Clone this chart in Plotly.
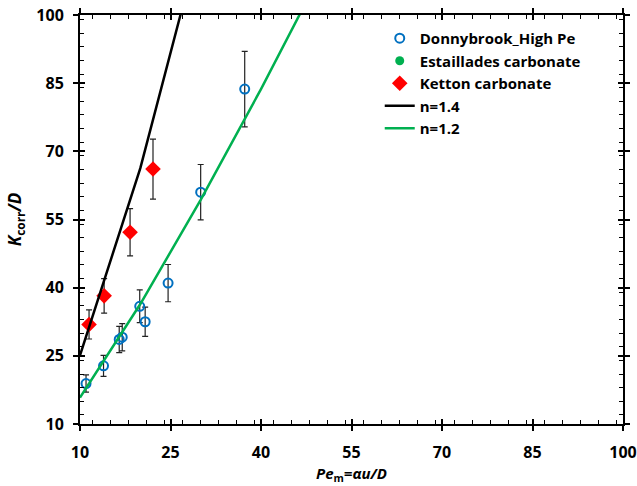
import plotly.graph_objects as go

# Data
pe_donny = [11.0, 13.9, 16.5, 17.0, 19.9, 20.8, 24.6, 30.0, 37.3]
k_donny = [18.9, 22.8, 28.6, 29.1, 35.9, 32.5, 41.0, 61.0, 83.7]
err_donny = [1.9, 2.3, 2.9, 3.0, 3.6, 3.2, 4.1, 6.1, 8.3]

pe_ketton = [11.5, 14.0, 18.3, 22.1]
k_ketton = [31.9, 38.2, 52.2, 66.1]
err_ketton = [3.2, 3.8, 5.2, 6.6]

pe_estaillades = [None]
k_estaillades = [None]

pe_n14 = [10, 20, 30]
k_n14 = [25.1, 66.3, 117.0]

pe_n12 = [10, 20, 30, 40, 50]
k_n12 = [15.8, 36.4, 59.3, 83.7, 109.3]

tick_vals = [10, 25, 40, 55, 70, 85, 100]
tick_text = ["10", "25", "40", "55", "70", "85", "100"]

FONT = "Open Sans"
BLUE = "#0070C0"
GREEN = "#00B050"
RED = "#FF0000"

fig = go.Figure()

fig.add_trace(go.Scatter(
    x=pe_donny, y=k_donny, mode="markers", name="Donnybrook_High Pe",
    marker=dict(symbol="circle-open", size=9, color=BLUE, line=dict(width=2, color=BLUE)),
    error_y=dict(type="data", array=err_donny, color="#222222", thickness=1.2, width=3),
))
fig.add_trace(go.Scatter(
    x=pe_estaillades, y=k_estaillades, mode="markers", name="Estaillades carbonate",
    marker=dict(symbol="circle", size=9, color=GREEN),
))
fig.add_trace(go.Scatter(
    x=pe_ketton, y=k_ketton, mode="markers", name="Ketton carbonate",
    marker=dict(symbol="diamond", size=12, color=RED),
    error_y=dict(type="data", array=err_ketton, color="#222222", thickness=1.2, width=3),
))
fig.add_trace(go.Scatter(
    x=pe_n14, y=k_n14, mode="lines", name="n=1.4",
    line=dict(color="black", width=2.5),
))
fig.add_trace(go.Scatter(
    x=pe_n12, y=k_n12, mode="lines", name="n=1.2",
    line=dict(color=GREEN, width=2.5),
))

axis_common = dict(
    range=[10, 100], tickvals=tick_vals, ticktext=tick_text,
    showgrid=False, zeroline=False, automargin=False,
    ticklabeloverflow="allow",
    showline=True, linecolor="black", linewidth=2,
    mirror="ticks", ticks="outside", ticklen=5, tickwidth=1.5, tickcolor="black",
    minor=dict(dtick=3, ticks="inside", ticklen=4, tickwidth=1, tickcolor="black"),
    tickfont=dict(family=FONT, size=16, color="black", weight="bold"),
)

fig.update_layout(
    width=637, height=486,
    margin=dict(l=80, r=14, t=15, b=62),
    plot_bgcolor="white", paper_bgcolor="white",
    showlegend=True,
    legend=dict(
        x=0.552, y=0.983, xanchor="left", yanchor="top",
        bgcolor="rgba(0,0,0,0)", tracegroupgap=0, itemwidth=30,
        font=dict(family=FONT, size=15, color="black", weight="bold"),
    ),
    xaxis=dict(
        **axis_common,
        title=dict(text="<i>Pe</i><sub>m</sub><i>=αu/D</i>", standoff=0,
                   font=dict(family=FONT, size=15, color="black", weight="bold")),
        ticklabelstandoff=8,
    ),
    yaxis=dict(
        **axis_common,
        title=dict(text="<i>K</i><sub>corr</sub><i>/D</i>", standoff=10,
                   font=dict(family=FONT, size=17, color="black", weight="bold")),
        ticklabelstandoff=6,
    ),
    xaxis2=dict(
        range=[10, 100], tickvals=tick_vals, overlaying="x", anchor="y",
        showgrid=False, zeroline=False, showline=False, showticklabels=False,
        automargin=False,
        mirror="ticks", ticks="inside", ticklen=5, tickwidth=1.5, tickcolor="black",
    ),
    yaxis2=dict(
        range=[10, 100], tickvals=tick_vals, overlaying="y", anchor="x",
        showgrid=False, zeroline=False, showline=False, showticklabels=False,
        automargin=False,
        mirror="ticks", ticks="inside", ticklen=5, tickwidth=1.5, tickcolor="black",
    ),
)

fig.add_trace(go.Scatter(x=[None], y=[None], xaxis="x2", yaxis="y2",
                         showlegend=False, hoverinfo="skip"))

fig.write_html("out.html")
